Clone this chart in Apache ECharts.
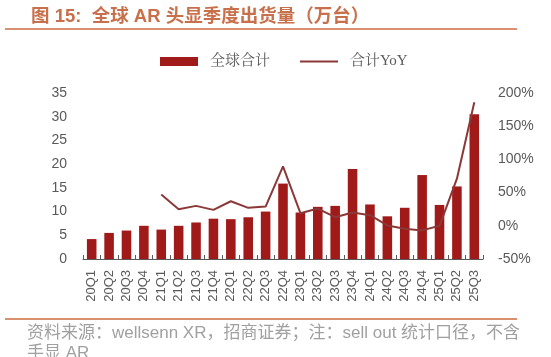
<!DOCTYPE html>
<html><head><meta charset="utf-8">
<script src="https://cdn.jsdelivr.net/npm/echarts@6/dist/echarts.min.js"></script>
<style>html,body{margin:0;padding:0;background:#fff}#c{width:551px;height:357px}</style>
</head><body><div id="c"></div>
<script>
const categories = ['20Q1','20Q2','20Q3','20Q4','21Q1','21Q2','21Q3','21Q4','22Q1','22Q2','22Q3','22Q4','23Q1','23Q2','23Q3','23Q4','24Q1','24Q2','24Q3','24Q4','25Q1','25Q2','25Q3'];
const shipments = [4.2,5.5,6.0,7.0,6.2,7.0,7.7,8.5,8.4,8.8,10.0,15.9,9.8,11.0,11.2,19.0,11.5,9.0,10.8,17.7,11.4,15.3,30.5];
const yoy = [null,null,null,null,47,25,30,24,37,27,29,89.5,19,26,13,20,16,0.6,-4.4,-6.9,0,71,186];
const leftTicks = [0,35,5];
const rightTicks = [-50,200,50];
const titleText = '图 15:  全球 AR 头显季度出货量（万台）';
const footText1 = '资料来源：wellsenn XR，招商证券；注：sell out 统计口径，不含';
const footText2 = '手显 AR';

const chart = echarts.init(document.getElementById('c'), null, {renderer:'canvas'});
const axisFont = {color:'#595959', fontSize:14, fontFamily:'Liberation Sans, Arial, sans-serif'};
const legendText = {color:'#595959',fontSize:15,padding:[0,0,0,7],fontFamily:'Liberation Serif, Noto Serif CJK SC, Noto Sans CJK SC, serif'};
chart.setOption({
  animation:false,
  title:{text:titleText,left:26,top:3,textStyle:{color:'#C8704B',fontSize:18.5,fontWeight:'bold',fontFamily:'Liberation Sans, Noto Sans CJK SC, sans-serif'}},
  legend:[
    {left:155,top:49,itemWidth:38,itemHeight:9,textStyle:legendText,data:[{name:'全球合计',icon:'rect'}]},
    {left:295,top:49,itemWidth:38,itemHeight:2,textStyle:legendText,data:[{name:'合计YoY',icon:'rect'}]}
  ],
  grid:{left:83,right:68,top:93,bottom:98,containLabel:false},
  xAxis:{type:'category',data:categories,
    axisLine:{lineStyle:{color:'#595959',width:1}},
    axisTick:{show:true,inside:true,length:4,lineStyle:{color:'#595959'}},
    axisLabel:{rotate:90,interval:0,margin:11,fontSize:13,color:'#595959',fontFamily:'Liberation Sans, Arial, sans-serif'}},
  yAxis:[
    {type:'value',min:leftTicks[0],max:leftTicks[1],interval:leftTicks[2],splitLine:{show:false},axisLine:{show:false},axisTick:{show:false},axisLabel:Object.assign({margin:16},axisFont)},
    {type:'value',min:rightTicks[0],max:rightTicks[1],interval:rightTicks[2],splitLine:{show:false},axisLine:{show:false},axisTick:{show:false},axisLabel:Object.assign({margin:15,formatter:'{value}%'},axisFont)}
  ],
  series:[
    {name:'全球合计',type:'bar',data:shipments,barWidth:'55%',itemStyle:{color:'#A11A1A'}},
    {name:'合计YoY',type:'line',yAxisIndex:1,data:yoy,symbol:'none',connectNulls:false,lineStyle:{color:'#8B3838',width:2},itemStyle:{color:'#8B3838'}}
  ],
  graphic:[
    {type:'rect',shape:{x:5,y:28,width:512,height:2},style:{fill:'#D9906F'}},
    {type:'rect',shape:{x:5,y:318,width:512,height:2},style:{fill:'#D9906F'}},
    {type:'text',left:27,top:325,style:{text:footText1,fill:'#A0A0A0',font:'17px "Liberation Sans", "Noto Sans CJK SC", sans-serif'}},
    {type:'text',left:27,top:345,style:{text:footText2,fill:'#A0A0A0',font:'17px "Liberation Sans", "Noto Sans CJK SC", sans-serif'}}
  ]
});
</script></body></html>
